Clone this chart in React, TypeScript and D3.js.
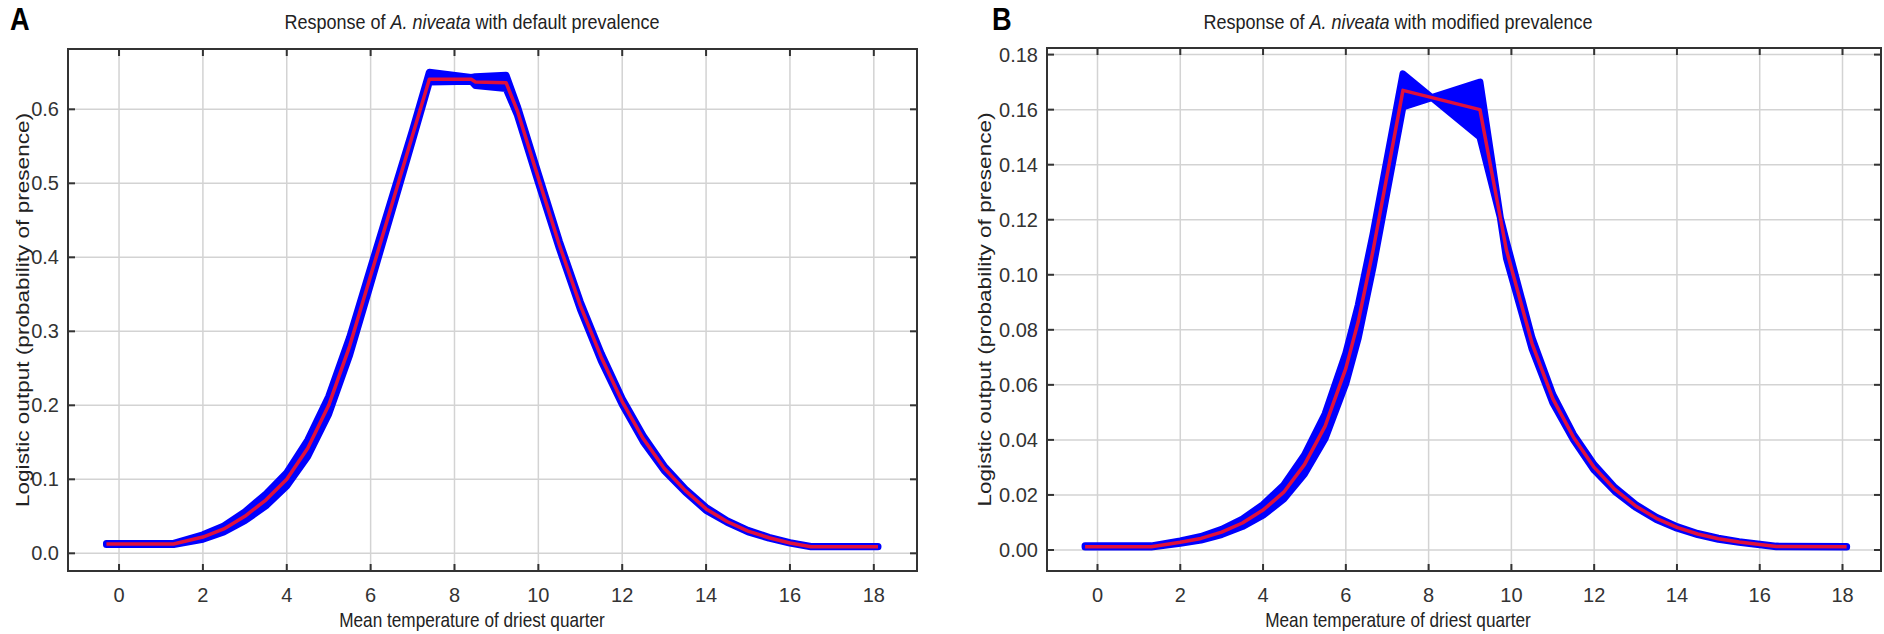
import React, { useEffect, useRef } from 'react';
import * as d3 from 'd3';

// x ticks shared by both panels
const xTicks = [0, 2, 4, 6, 8, 10, 12, 14, 16, 18];
const yTicksA = [0, 0.1, 0.2, 0.3, 0.4, 0.5, 0.6];
const yTicksB = [0, 0.02, 0.04, 0.06, 0.08, 0.1, 0.12, 0.14, 0.16, 0.18];

// Panel A: default prevalence (mean and +/- sd band)
const tempA = [-0.3, 1.3, 2, 2.5, 3, 3.5, 4, 4.5, 5, 5.5, 6, 6.5, 7, 7.4, 8.4, 8.5, 9.23, 9.5, 10, 10.5, 11, 11.5, 12, 12.5, 13, 13.5, 14, 14.5, 15, 15.5, 16, 16.5, 18.1];
const meanA = [0.0126, 0.0126, 0.022, 0.033, 0.05, 0.072, 0.1, 0.142, 0.2, 0.28, 0.375, 0.47, 0.565, 0.6405, 0.6405, 0.637, 0.636, 0.598, 0.507, 0.417, 0.335, 0.265, 0.205, 0.155, 0.115, 0.085, 0.06, 0.043, 0.03, 0.021, 0.014, 0.009, 0.009];
const upperA = [0.0134, 0.0134, 0.025, 0.037, 0.056, 0.08, 0.109, 0.153, 0.212, 0.292, 0.386, 0.479, 0.572, 0.65, 0.643, 0.644, 0.646, 0.604, 0.513, 0.422, 0.34, 0.27, 0.209, 0.159, 0.118, 0.087, 0.062, 0.044, 0.031, 0.0215, 0.0143, 0.0092, 0.0092];
const lowerA = [0.0118, 0.0118, 0.019, 0.029, 0.044, 0.064, 0.091, 0.131, 0.188, 0.268, 0.364, 0.461, 0.558, 0.637, 0.638, 0.632, 0.628, 0.592, 0.501, 0.412, 0.33, 0.26, 0.201, 0.151, 0.112, 0.083, 0.058, 0.042, 0.029, 0.0205, 0.0137, 0.0088, 0.0088];

// Panel B: modified prevalence
const tempB = [-0.3, 1.3, 2, 2.5, 3, 3.5, 4, 4.5, 5, 5.5, 6, 6.3, 6.66, 7.38, 9.24, 9.88, 10.5, 11, 11.5, 12, 12.5, 13, 13.5, 14, 14.5, 15, 15.5, 16, 16.4, 18.1];
const meanB = [0.0012, 0.0012, 0.0028, 0.0042, 0.0065, 0.0098, 0.0145, 0.021, 0.031, 0.045, 0.066, 0.083, 0.109, 0.167, 0.16, 0.109, 0.075, 0.055, 0.041, 0.03, 0.022, 0.016, 0.0115, 0.0082, 0.0058, 0.0041, 0.0029, 0.002, 0.0013, 0.0012];
const upperB = [0.0015, 0.0015, 0.0033, 0.0049, 0.0075, 0.0112, 0.0165, 0.0236, 0.0345, 0.0495, 0.0715, 0.089, 0.115, 0.173, 0.15, 0.112, 0.077, 0.0565, 0.042, 0.031, 0.0227, 0.0165, 0.0119, 0.0085, 0.006, 0.0043, 0.003, 0.0021, 0.0014, 0.0013];
const lowerB = [0.0011, 0.0011, 0.0024, 0.0036, 0.0056, 0.0085, 0.0126, 0.0185, 0.0276, 0.0405, 0.0605, 0.077, 0.103, 0.161, 0.17, 0.106, 0.073, 0.0535, 0.04, 0.029, 0.0213, 0.0155, 0.0111, 0.0079, 0.0056, 0.0039, 0.0028, 0.0019, 0.0012, 0.0011];

const FONT = '"Liberation Sans", Arial, sans-serif';

type Panel = {
  letter: string;
  letterX: number;
  titleX: number;
  yLabelX: number;
  tag: string;
  left: number; right: number; top: number; bottom: number;
  xDomain: [number, number];
  yDomain: [number, number];
  yTicks: number[];
  yFmt: string;
  temp: number[]; mean: number[]; upper: number[]; lower: number[];
};

const panels: Panel[] = [
  {
    letter: 'A', letterX: 10, titleX: 472, yLabelX: 29, tag: 'default prevalence',
    left: 68, right: 917, top: 49, bottom: 571,
    xDomain: [-1.217, 19.03], yDomain: [-0.0239, 0.6815],
    yTicks: yTicksA, yFmt: '.1f',
    temp: tempA, mean: meanA, upper: upperA, lower: lowerA,
  },
  {
    letter: 'B', letterX: 992, titleX: 1398, yLabelX: 991, tag: 'modified prevalence',
    left: 1047, right: 1881, top: 48, bottom: 571,
    xDomain: [-1.22, 18.93], yDomain: [-0.00764, 0.1824],
    yTicks: yTicksB, yFmt: '.2f',
    temp: tempB, mean: meanB, upper: upperB, lower: lowerB,
  },
];

const App = () => {
  const ref = useRef<SVGSVGElement>(null);

  useEffect(() => {
    const svg = d3.select(ref.current);
    svg.selectAll('*').remove();
    svg.append('rect').attr('width', 1884).attr('height', 634).attr('fill', '#fff');

    panels.forEach(p => {
      const x = d3.scaleLinear().domain(p.xDomain).range([p.left, p.right]);
      const y = d3.scaleLinear().domain(p.yDomain).range([p.bottom, p.top]);
      const g = svg.append('g');

      // grid
      g.selectAll('.vg').data(xTicks).enter().append('line')
        .attr('x1', d => x(d)).attr('x2', d => x(d))
        .attr('y1', p.top).attr('y2', p.bottom)
        .attr('stroke', '#d3d3d3').attr('stroke-width', 1.5);
      g.selectAll('.hg').data(p.yTicks).enter().append('line')
        .attr('x1', p.left).attr('x2', p.right)
        .attr('y1', d => y(d)).attr('y2', d => y(d))
        .attr('stroke', '#d3d3d3').attr('stroke-width', 1.5);

      // sd band
      const pts = p.temp.map((t, i) => ({ t, m: p.mean[i], hi: p.upper[i], lo: p.lower[i] }));
      const area = d3.area<typeof pts[0]>()
        .x(d => x(d.t)).y0(d => y(d.lo)).y1(d => y(d.hi));
      g.append('path').datum(pts)
        .attr('d', area)
        .attr('fill', '#0000ff')
        .attr('stroke', '#0000ff')
        .attr('stroke-width', 7)
        .attr('stroke-linejoin', 'round');

      // mean
      const line = d3.line<typeof pts[0]>().x(d => x(d.t)).y(d => y(d.m));
      g.append('path').datum(pts)
        .attr('d', line)
        .attr('fill', 'none')
        .attr('stroke', '#e0103c')
        .attr('stroke-width', 3.5)
        .attr('stroke-linejoin', 'round');

      // frame
      g.append('rect')
        .attr('x', p.left).attr('y', p.top)
        .attr('width', p.right - p.left).attr('height', p.bottom - p.top)
        .attr('fill', 'none').attr('stroke', '#333').attr('stroke-width', 2);

      // inner ticks on four sides
      xTicks.forEach(t => {
        g.append('line').attr('x1', x(t)).attr('x2', x(t))
          .attr('y1', p.bottom).attr('y2', p.bottom - 7)
          .attr('stroke', '#333').attr('stroke-width', 2);
        g.append('line').attr('x1', x(t)).attr('x2', x(t))
          .attr('y1', p.top).attr('y2', p.top + 7)
          .attr('stroke', '#333').attr('stroke-width', 2);
        g.append('text').attr('x', x(t)).attr('y', 602)
          .attr('text-anchor', 'middle')
          .style('font-family', FONT).style('font-size', '20px').attr('fill', '#333')
          .text(t);
      });
      p.yTicks.forEach(t => {
        g.append('line').attr('x1', p.left).attr('x2', p.left + 7)
          .attr('y1', y(t)).attr('y2', y(t))
          .attr('stroke', '#333').attr('stroke-width', 2);
        g.append('line').attr('x1', p.right).attr('x2', p.right - 7)
          .attr('y1', y(t)).attr('y2', y(t))
          .attr('stroke', '#333').attr('stroke-width', 2);
        g.append('text').attr('x', p.left - 9).attr('y', y(t) + 7)
          .attr('text-anchor', 'end')
          .style('font-family', FONT).style('font-size', '20px').attr('fill', '#333')
          .text(d3.format(p.yFmt)(t));
      });

      // title (condensed horizontally like the source figure)
      const title = g.append('text')
        .attr('transform', `translate(${p.titleX},29) scale(0.9,1)`)
        .attr('text-anchor', 'middle')
        .style('font-family', FONT).style('font-size', '20px').attr('fill', '#222');
      title.append('tspan').text('Response of ');
      title.append('tspan').style('font-style', 'italic').text('A. niveata');
      title.append('tspan').text(` with ${p.tag}`);

      // axis labels
      g.append('text')
        .attr('transform', `translate(${p.titleX},627) scale(0.86,1)`)
        .attr('text-anchor', 'middle')
        .style('font-family', FONT).style('font-size', '20px').attr('fill', '#222')
        .text('Mean temperature of driest quarter');
      g.append('text')
        .attr('transform', `translate(${p.yLabelX},${(p.top + p.bottom) / 2}) rotate(-90) scale(1,0.78)`)
        .attr('text-anchor', 'middle')
        .style('font-family', FONT).style('font-size', '22.6px').attr('fill', '#222')
        .text('Logistic output (probability of presence)');

      // panel letter
      g.append('text')
        .attr('transform', `translate(${p.letterX},30) scale(0.85,1)`)
        .style('font-family', FONT).style('font-size', '32px').style('font-weight', 'bold')
        .attr('fill', '#000')
        .text(p.letter);
    });
  }, []);

  return (
    <svg ref={ref} width={1884} height={634}
      style={{ position: 'absolute', left: 0, top: 0, display: 'block' }} />
  );
};

export default App;
